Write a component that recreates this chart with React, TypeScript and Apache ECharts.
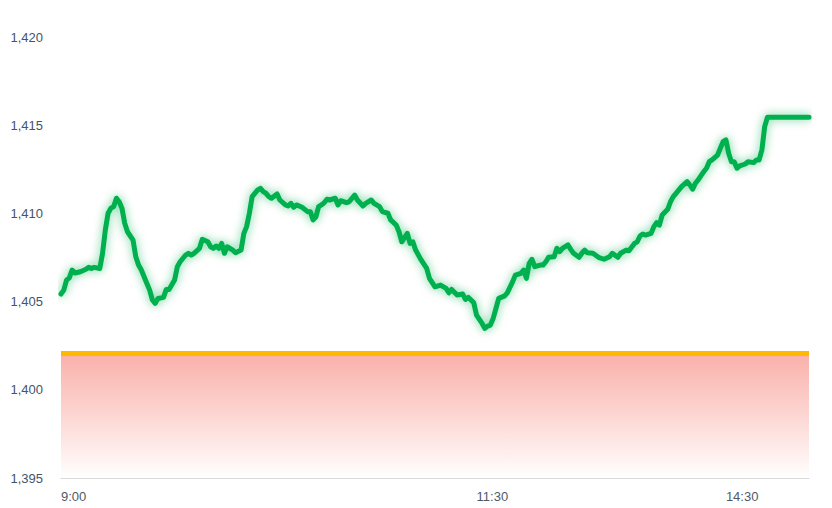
import React, { useEffect, useRef } from "react";
import * as echarts from "echarts";

// minutes since 9:00 on a trading-time axis (9:00–11:30, then 13:00–15:00)
const minutes = [
  0, 1, 2, 3, 4, 5, 7, 9, 10, 11, 12, 14, 15, 16, 17, 18, 19, 20, 21, 22, 23, 24, 26, 27, 28, 29,
  31, 32, 33, 34, 35, 37, 38, 39, 41, 42, 43, 45, 46, 47, 48, 50, 51, 53, 54, 55, 56, 57, 58, 59,
  60, 62, 63, 65, 66, 67, 68, 69, 71, 72, 73, 74, 75, 76, 78, 79, 81, 82, 83, 84, 85, 87, 89, 90,
  91, 92, 93, 94, 95, 96, 97, 99, 100, 101, 103, 104, 106, 107, 109, 110, 112, 113, 115, 116, 118,
  119, 121, 122, 123, 125, 126, 127, 128, 130, 132, 133, 135, 137, 139, 140, 141, 143, 145, 146,
  147, 148, 149, 150, 152, 153, 154, 155, 156, 157, 158, 160, 161, 163, 164, 166, 167, 168, 169,
  170, 171, 173, 174, 175, 176, 178, 179, 180, 181, 183, 184, 185, 187, 188, 189, 190, 192, 194,
  196, 198, 199, 201, 202, 204, 205, 207, 208, 209, 210, 211, 213, 214, 215, 216, 217, 219, 220,
  221, 222, 224, 226, 227, 228, 229, 230, 232, 233, 234, 235, 237, 238, 239, 240, 241, 242, 243,
  244, 245, 247, 248, 250, 251, 252, 253, 254, 255, 270,
];
const prices = [
  1405.43, 1405.65, 1406.22, 1406.35, 1406.79, 1406.62, 1406.69, 1406.83, 1406.94, 1406.88, 1406.94,
  1406.88, 1407.74, 1409.06, 1410.01, 1410.29, 1410.38, 1410.86, 1410.66, 1410.29, 1409.44, 1408.96,
  1408.49, 1407.54, 1407.07, 1406.79, 1406.03, 1405.65, 1405.09, 1404.9, 1405.18, 1405.24, 1405.69,
  1405.69, 1406.22, 1406.98, 1407.26, 1407.64, 1407.74, 1407.64, 1407.74, 1408.02, 1408.53, 1408.39,
  1408.11, 1408.02, 1408.15, 1408.02, 1408.3, 1407.74, 1408.11, 1407.92, 1407.77, 1407.92, 1408.87,
  1409.25, 1410.01, 1410.95, 1411.33, 1411.42, 1411.23, 1411.14, 1410.95, 1410.86, 1411.1, 1410.76,
  1410.48, 1410.42, 1410.57, 1410.35, 1410.48, 1410.35, 1410.1, 1410.1, 1409.63, 1409.81, 1410.38,
  1410.48, 1410.6, 1410.8, 1410.76, 1410.86, 1410.48, 1410.72, 1410.61, 1410.66, 1411.04, 1410.76,
  1410.42, 1410.57, 1410.76, 1410.57, 1410.38, 1410.1, 1410.01, 1409.63, 1409.34, 1408.96, 1408.39,
  1408.87, 1408.3, 1408.39, 1407.92, 1407.36, 1406.88, 1406.32, 1405.84, 1405.94, 1405.75, 1405.5,
  1405.69, 1405.37, 1405.43, 1405.12, 1405.24, 1405.09, 1404.93, 1404.23, 1403.76, 1403.48, 1403.61,
  1403.67, 1404.05, 1404.61, 1405.18, 1405.31, 1405.47, 1406.12, 1406.5, 1406.6, 1406.79, 1406.32,
  1407.17, 1407.4, 1406.98, 1407.07, 1407.07, 1407.26, 1407.51, 1407.54, 1408.02, 1407.83, 1408.02,
  1408.21, 1407.96, 1407.74, 1407.51, 1407.74, 1407.92, 1407.77, 1407.74, 1407.51, 1407.4, 1407.54,
  1407.74, 1407.51, 1407.74, 1407.92, 1407.88, 1408.3, 1408.39, 1408.72, 1408.83, 1408.77, 1408.87,
  1409.25, 1409.47, 1409.34, 1409.91, 1410.23, 1410.66, 1410.95, 1411.14, 1411.52, 1411.8, 1411.61,
  1411.37, 1411.71, 1411.9, 1412.37, 1412.56, 1412.93, 1413.03, 1413.31, 1413.69, 1414.07, 1414.17,
  1413.41, 1412.93, 1412.93, 1412.56, 1412.69, 1412.8, 1412.93, 1412.88, 1413.03, 1413.03, 1413.6,
  1414.92, 1415.45, 1415.45,
];

const referencePrice = 1402.06;
const sessionStart = 0;
const sessionEnd = 270;

const timeTicks = [0, 150, 240];
const timeLabels = ["9:00", "11:30", "14:30"];

const yMin = 1395;
const yMax = 1420;
const yStep = 5;

export default function App() {
  const ref = useRef<HTMLDivElement>(null);

  useEffect(() => {
    if (!ref.current) return;
    const chart = echarts.init(ref.current, null, { renderer: "svg" });
    const priceData = minutes.map((m, i) => [m, prices[i]]);
    const refData = [
      [sessionStart, referencePrice],
      [sessionEnd, referencePrice],
    ];
    chart.setOption({
      animation: false,
      backgroundColor: "#ffffff",
      grid: { left: 61, right: 23, top: 37, bottom: 30, containLabel: false },
      xAxis: {
        type: "value",
        min: sessionStart,
        max: sessionEnd,
        interval: 30,
        axisLine: { show: true, lineStyle: { color: "#d9d9d9", width: 1 } },
        axisTick: { show: false },
        splitLine: { show: false },
        axisLabel: {
          margin: 12,
          align: "left",
          color: "#505a66",
          fontFamily: "Liberation Sans",
          fontSize: 13,
          formatter: (v: number) => {
            const k = timeTicks.indexOf(v);
            return k >= 0 ? timeLabels[k] : "";
          },
        },
      },
      yAxis: {
        type: "value",
        min: yMin,
        max: yMax,
        interval: yStep,
        axisLine: { show: false },
        axisTick: { show: false },
        splitLine: { show: false },
        axisLabel: {
          margin: 18,
          color: "#44546a",
          fontFamily: "Liberation Sans",
          fontSize: 13,
          formatter: (v: number) => v.toLocaleString("en-US"),
        },
      },
      series: [
        {
          type: "line",
          data: refData,
          symbol: "none",
          z: 2,
          lineStyle: {
            color: "#ffb800",
            width: 5,
          },
          areaStyle: {
            origin: "start",
            opacity: 1,
            color: new echarts.graphic.LinearGradient(0, 0, 0, 1, [
              { offset: 0, color: "#fab0aa" },
              { offset: 0.45, color: "#fcd2ce" },
              { offset: 1, color: "#ffffff" },
            ]),
          },
        },
        {
          type: "line",
          data: priceData,
          symbol: "none",
          z: 3,
          lineStyle: {
            color: "#00b050",
            width: 5,
            cap: "round",
            join: "round",
            shadowColor: "rgba(0,176,80,0.6)",
            shadowBlur: 10,
          },
        },
      ],
    });
    return () => chart.dispose();
  }, []);

  return (
    <div
      ref={ref}
      style={{ position: "fixed", left: 0, top: 0, width: 832, height: 508 }}
    />
  );
}
